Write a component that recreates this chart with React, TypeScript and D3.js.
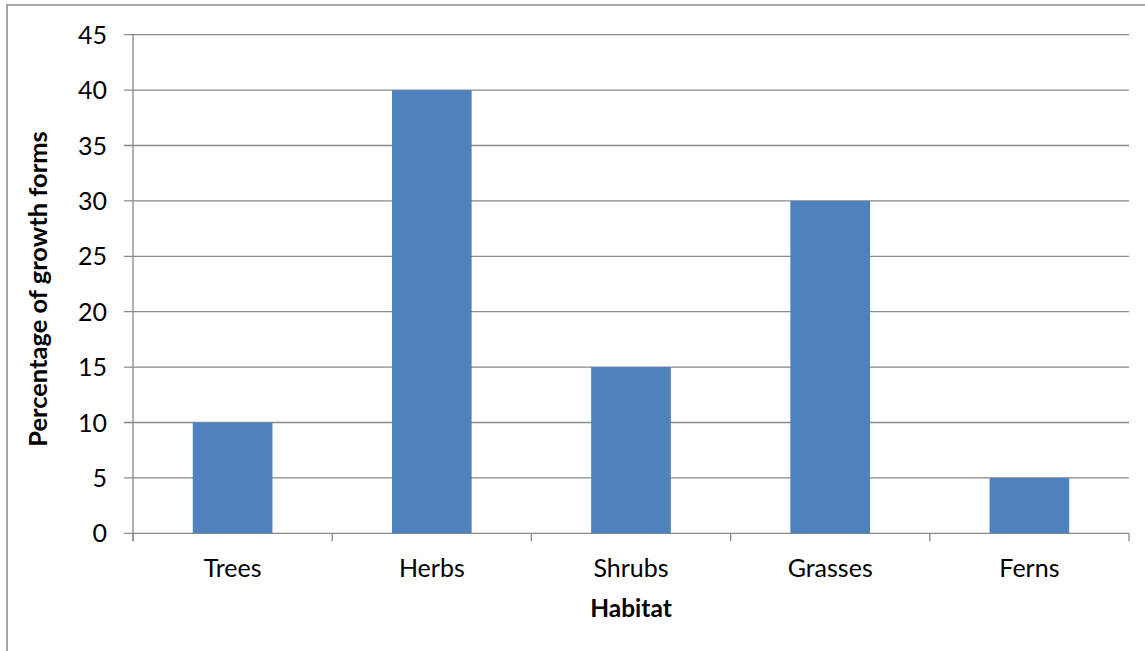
import React from "react";
import * as d3 from "d3";

const categories = ["Trees", "Herbs", "Shrubs", "Grasses", "Ferns"];
const values = [10, 40, 15, 30, 5];
const yTicks = [0, 5, 10, 15, 20, 25, 30, 35, 40, 45];

const W = 1145;
const H = 651;
const left = 133;
const right = 1129;
const top = 34.7;
const bottom = 533.3;
const font = "Lato, 'Open Sans', sans-serif";
const axisColor = "#898989";

export default function App() {
  // bars take 40% of each category slot, centred in it
  const x = d3.scaleBand<string>().domain(categories).range([left, right]).paddingInner(0.6).paddingOuter(0.3);
  const band = d3.scaleBand<string>().domain(categories).range([left, right]);
  const y = d3.scaleLinear().domain([0, 45]).range([bottom, top]);
  const xBounds = [left, ...categories.map((c) => (band(c) as number) + band.bandwidth())];

  return (
    <svg width={W} height={H} style={{ position: "absolute", left: 0, top: 0, display: "block" }}>
      <rect x={0} y={0} width={W} height={H} fill="#fff" />
      <rect x={7} y={5} width={W + 10} height={H + 10} fill="none" stroke="#8a8a8a" strokeWidth={1.5} />
      {yTicks.map((t) => (
        <g key={t}>
          <line x1={left - 9} x2={right} y1={y(t)} y2={y(t)} stroke={axisColor} strokeWidth={1.3} />
          <text x={107} y={y(t)} dy="0.36em" textAnchor="end" fontFamily={font} fontSize={25} fill="#000">
            {t}
          </text>
        </g>
      ))}
      <line x1={left} x2={left} y1={top} y2={bottom + 8} stroke={axisColor} strokeWidth={1.3} />
      {xBounds.map((b, i) => (
        <line key={i} x1={b} x2={b} y1={bottom} y2={bottom + 8} stroke={axisColor} strokeWidth={1.3} />
      ))}
      {categories.map((c, i) => (
        <rect key={c} x={x(c)} y={y(values[i])} width={x.bandwidth()} height={bottom - y(values[i])} fill="#4F81BD" />
      ))}
      {categories.map((c) => (
        <text key={c} x={(band(c) as number) + band.bandwidth() / 2} y={577} textAnchor="middle" fontFamily={font} fontSize={25} fill="#000">
          {c}
        </text>
      ))}
      <text x={(left + right) / 2} y={617} textAnchor="middle" fontFamily={font} fontSize={24.5} fontWeight="bold" fill="#000">
        Habitat
      </text>
      <text transform={`translate(47, ${(top + bottom) / 2 + 5}) rotate(-90)`} textAnchor="middle" fontFamily={font} fontSize={25.5} fontWeight="bold" fill="#000">
        Percentage of growth forms
      </text>
    </svg>
  );
}
